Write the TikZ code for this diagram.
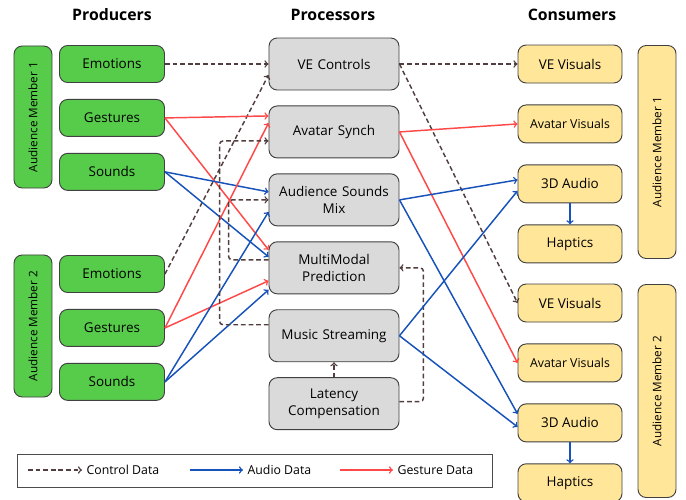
\documentclass[tikz,border=0pt]{standalone}
\usepackage{fontspec}
\setmainfont{Open Sans}
\usepackage{tikz}
\usetikzlibrary{shapes,arrows,positioning,calc}
\definecolor{colorCtl}{RGB}{82,62,62}
\definecolor{colorAud}{RGB}{22,82,185}
\definecolor{colorGes}{RGB}{255,72,72}
\definecolor{colorGn}{RGB}{87,204,74}
\definecolor{colorGy}{RGB}{218,218,218}
\definecolor{colorY}{RGB}{255,230,153}
\tikzstyle{box}=[draw=black!75, line width=0.8pt, rounded corners=7pt]
\tikzstyle{prod}=[box, fill=colorGn, minimum width=3.15cm, minimum height=1.11cm]
\tikzstyle{proc}=[box, fill=colorGy, minimum width=3.9cm, minimum height=1.56cm, align=center, text width=3.6cm]
\tikzstyle{cons}=[box, fill=colorY, minimum width=3.12cm, minimum height=1.14cm]
\tikzstyle{member}=[box, rotate=90, minimum height=1.14cm, font=\fontsize{10}{12}\selectfont]
\tikzstyle{head}=[font=\fontsize{13.5}{16}\selectfont\bfseries]
\tikzstyle{ctl}=[->, draw=colorCtl, dash pattern=on 4pt off 2.5pt]
\tikzstyle{aud}=[->, draw=colorAud]
\tikzstyle{ges}=[->, draw=colorGes]

\begin{document}
\begin{tikzpicture}[x=0.03cm,y=-0.03cm,line width=1.25pt,font=\fontsize{11.5}{14}\selectfont]
\useasboundingbox (0,0) rectangle (686,500);

\node[head] (titleProducers) at (112,15) {Producers};
\node[head] (titleProcessors) at (333,15) {Processors};
\node[head] (titleConsumers) at (572,15) {Consumers};

% producers
\node[prod] (em1) at (112,64) {Emotions};
\node[prod, below=0.48cm of em1] (ge1) {Gestures};
\node[prod, below=0.48cm of ge1] (so1) {Sounds};
\node[prod] (em2) at (112,274) {Emotions};
\node[prod, below=0.48cm of em2] (ge2) {Gestures};
\node[prod, below=0.48cm of ge2] (so2) {Sounds};
\node[member, fill=colorGn, minimum width=4.26cm] (amL1) at (33,117) {Audience Member 1};
\node[member, fill=colorGn, minimum width=4.26cm] (amL2) at (33,326) {Audience Member 2};

% processors
\node[proc] (vec) at (334,64) {VE Controls};
\node[proc, below=0.45cm of vec] (avs) {Avatar Synch};
\node[proc, below=0.45cm of avs] (asm) {Audience Sounds\\Mix};
\node[proc, below=0.45cm of asm] (mmp) {MultiModal\\Prediction};
\node[proc, below=0.45cm of mmp] (mus) {Music Streaming};
\node[proc, below=0.45cm of mus] (lat) {Latency\\Compensation};

% consumers
\node[cons] (vev1) at (570,64) {VE Visuals};
\node[cons, below=0.63cm of vev1, font=\fontsize{10.5}{12}\selectfont] (avv1) {Avatar Visuals};
\node[cons, below=0.63cm of avv1] (aud1) {3D Audio};
\node[cons, below=0.63cm of aud1] (hap1) {Haptics};
\node[cons] (vev2) at (570,303) {VE Visuals};
\node[cons, below=0.63cm of vev2, font=\fontsize{10.5}{12}\selectfont] (avv2) {Avatar Visuals};
\node[cons, below=0.63cm of avv2] (aud2) {3D Audio};
\node[cons, below=0.63cm of aud2] (hap2) {Haptics};
\node[member, fill=colorY, minimum width=6.39cm] (amR1) at (657,152) {Audience Member 1};
\node[member, fill=colorY, minimum width=6.39cm] (amR2) at (657,391) {Audience Member 2};

% producers -> processors
\draw[ctl] (em1.east) -- (vec.west);
\draw[ctl] (em2.east) -- ($(vec.west)+(0,11)$);
\draw[ges] (ge1.east) -- ($(avs.west)+(0,-16)$);
\draw[ges] (ge1.east) -- ($(mmp.west)+(0,-18)$);
\draw[aud] (so1.east) -- ($(asm.west)+(0,-8)$);
\draw[aud] (so1.east) -- ($(mmp.west)+(0,-11)$);
\draw[ges] (ge2.east) -- ($(avs.west)+(0,-9)$);
\draw[ges] (ge2.east) -- ($(mmp.west)+(0,13)$);
\draw[aud] (so2.east) -- ($(asm.west)+(0,12)$);
\draw[aud] (so2.east) -- ($(mmp.west)+(0,22)$);

% processors among themselves
\draw[ctl, rounded corners=3pt] ($(mus.west)+(0,-11)$) -- ++(-49,0) |- ($(avs.west)+(0,9)$);
\draw[ctl, rounded corners=3pt] ($(mmp.west)+(0,-8)$) -- ++(-40,0) |- (asm.west);
\draw[ctl, rounded corners=3pt] ($(lat.east)+(0,-2)$) -- ++(24,0) |- (mmp.east);
\draw[ctl] (lat.north) -- (mus.south);

% processors -> consumers
\draw[ctl] (vec.east) -- (vev1.west);
\draw[ctl] (vec.east) -- (vev2.west);
\draw[ges] (avs.east) -- (avv1.west);
\draw[ges] (avs.east) -- (avv2.west);
\draw[aud] (asm.east) -- ($(aud1.west)+(0,-4)$);
\draw[aud] (asm.east) -- ($(aud2.west)+(0,-9)$);
\draw[aud] (mus.east) -- ($(aud1.west)+(0,7)$);
\draw[aud] (mus.east) -- ($(aud2.west)+(0,4)$);
\draw[aud] (aud1.south) -- (hap1.north);
\draw[aud] (aud2.south) -- (hap2.north);

% legend
\node[draw=black!70, line width=0.8pt, minimum width=14.25cm, minimum height=0.99cm] (legend) at (254.5,470.5) {};
\coordinate (ctlStart) at (28,470);
\node[anchor=west, font=\fontsize{10.5}{12}\selectfont] (ctlText) at (82,470) {Control Data};
\coordinate (audStart) at (190,470);
\node[anchor=west, font=\fontsize{10.5}{12}\selectfont] (audText) at (243,470) {Audio Data};
\coordinate (gesStart) at (340,470);
\node[anchor=west, font=\fontsize{10.5}{12}\selectfont] (gesText) at (393,470) {Gesture Data};
\draw[ctl] (ctlStart) -- (ctlText.west);
\draw[aud] (audStart) -- (audText.west);
\draw[ges] (gesStart) -- (gesText.west);

\end{tikzpicture}
\end{document}
